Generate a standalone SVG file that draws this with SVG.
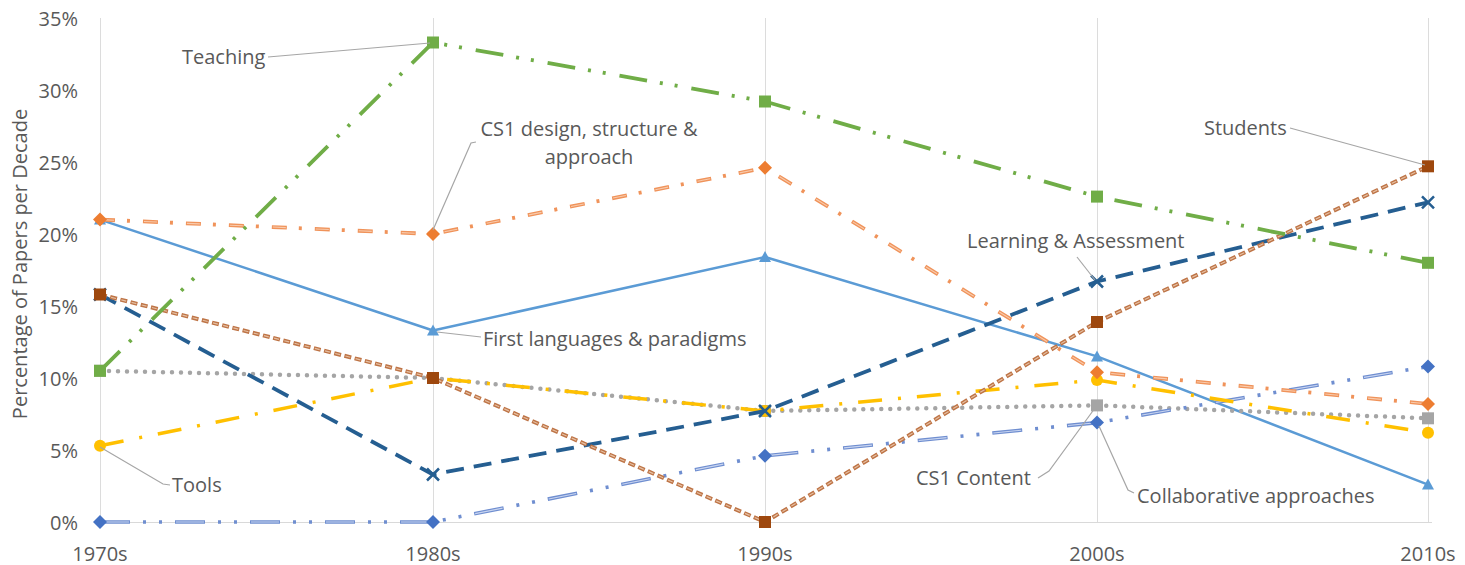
<svg xmlns="http://www.w3.org/2000/svg" xmlns:xlink="http://www.w3.org/1999/xlink" width="1465" height="565" viewBox="0 0 1465 565">
<style>
text{font-family:"Open Sans","Liberation Sans",sans-serif;font-size:20px;fill:#595959}
.grid{stroke:#DCDCDC;stroke-width:1;fill:none}
.leader{stroke:#A6A6A6;stroke-width:1.2;fill:none}
.s{fill:none;stroke-linejoin:round}
</style>
<defs>
<rect id="sq" x="-6" y="-6" width="12" height="12"/>
<path id="dia" d="M0,-7 L7,0 L0,7 L-7,0 Z"/>
<path id="tri" d="M0,-6 L6,5 L-6,5 Z"/>
<circle id="cir" r="6"/>
<path id="xm" d="M-6,-6 L6,6 M-6,6 L6,-6"/>
</defs>
<rect width="1465" height="565" fill="#FFFFFF"/>
<g id="gridlines">
<path class="grid" d="M100.5,18V522 M433.5,18V522 M765.5,18V522 M1097.5,18V522 M1428.5,18V522"/>
<path d="M100,522.5H1432" stroke="#D9D9D9" stroke-width="1.2"/>
</g>
<g id="axis-y">
<g text-anchor="end">
<text x="78" y="529.5">0%</text>
<text x="78" y="457.5">5%</text>
<text x="78" y="385.5">10%</text>
<text x="78" y="313.5">15%</text>
<text x="78" y="241.5">20%</text>
<text x="78" y="169.5">25%</text>
<text x="78" y="97.5">30%</text>
<text x="78" y="25.5">35%</text>
</g>
<text x="0" y="0" text-anchor="middle" transform="translate(27,264) rotate(-90)">Percentage of Papers per Decade</text>
</g>
<g id="axis-x" text-anchor="middle">
<text x="100" y="561">1970s</text>
<text x="433" y="561">1980s</text>
<text x="765" y="561">1990s</text>
<text x="1097" y="561">2000s</text>
<text x="1428" y="561">2010s</text>
</g>
<g id="series-first-languages">
<path class="s" d="M100,219.6 L433,330.5 L765,257 L1097,356.4 L1428,484.6" stroke="#5B9BD5" stroke-width="2.5"/>
<g fill="#5B9BD5"><use href="#tri" x="100" y="219.6"/><use href="#tri" x="433" y="330.5"/><use href="#tri" x="765" y="257"/><use href="#tri" x="1097" y="356.4"/><use href="#tri" x="1428" y="484.6"/></g>
</g>
<g id="series-cs1-content">
<path class="s" d="M100,370.8 L433,378 L765,411 L1097,405.4 L1428,418.3" stroke="#A5A5A5" stroke-width="4.5" stroke-linecap="round" stroke-dasharray="0 9"/>
<g fill="#A5A5A5"><use href="#sq" x="100" y="370.8"/><use href="#sq" x="433" y="378"/><use href="#sq" x="765" y="411"/><use href="#sq" x="1097" y="405.4"/><use href="#sq" x="1428" y="418.3"/></g>
</g>
<g id="series-collaborative">
<path class="s" d="M100,522 L433,522 L765,455.8 L1097,422.6 L1428,366.5" stroke="#6F8ED0" stroke-width="3.6" stroke-dasharray="30 13 3 13 3 13"/>
<path class="s" d="M100,522 L433,522 L765,455.8 L1097,422.6 L1428,366.5" stroke="#C9D5F0" stroke-width="1.1" stroke-dasharray="28 47" stroke-dashoffset="-1"/>
<g fill="#4472C4"><use href="#dia" x="100" y="522"/><use href="#dia" x="433" y="522"/><use href="#dia" x="765" y="455.8"/><use href="#dia" x="1097" y="422.6"/><use href="#dia" x="1428" y="366.5"/></g>
</g>
<g id="series-tools">
<path class="s" d="M100,445.7 L433,378 L765,411 L1097,380 L1428,432.7" stroke="#FFC000" stroke-width="3.5" stroke-dasharray="24 16 3 16"/>
<g fill="#FFC000"><use href="#cir" x="100" y="445.7"/><use href="#cir" x="433" y="378"/><use href="#cir" x="765" y="411"/><use href="#cir" x="1097" y="380"/><use href="#cir" x="1428" y="432.7"/></g>
</g>
<g id="series-learning-assessment">
<path class="s" d="M100,294.5 L433,474.5 L765,411 L1097,281.5 L1428,202.3" stroke="#255E91" stroke-width="3.8" stroke-dasharray="18 10"/>
<g stroke="#255E91" stroke-width="2.5" fill="none"><use href="#xm" x="100" y="294.5"/><use href="#xm" x="433" y="474.5"/><use href="#xm" x="765" y="411"/><use href="#xm" x="1097" y="281.5"/><use href="#xm" x="1428" y="202.3"/></g>
</g>
<g id="series-students">
<path class="s" d="M100,294.5 L433,378 L765,522 L1097,322 L1428,166.3" stroke="#BE7446" stroke-width="4" stroke-dasharray="7 3.5"/>
<path class="s" d="M100,294.5 L433,378 L765,522 L1097,322 L1428,166.3" stroke="#E6BFA2" stroke-width="1.2" stroke-dasharray="5 5.5" stroke-dashoffset="-1"/>
<g fill="#9E480E"><use href="#sq" x="100" y="294.5"/><use href="#sq" x="433" y="378"/><use href="#sq" x="765" y="522"/><use href="#sq" x="1097" y="322"/><use href="#sq" x="1428" y="166.3"/></g>
</g>
<g id="series-cs1-design">
<path class="s" d="M100,219.6 L433,234 L765,167.8 L1097,372.2 L1428,403.9" stroke="#F0935A" stroke-width="3.8" stroke-dasharray="15 12 3 13"/>
<path class="s" d="M100,219.6 L433,234 L765,167.8 L1097,372.2 L1428,403.9" stroke="#F8CBAD" stroke-width="1.1" stroke-dasharray="13 30" stroke-dashoffset="-1"/>
<g fill="#ED7D31"><use href="#dia" x="100" y="219.6"/><use href="#dia" x="433" y="234"/><use href="#dia" x="765" y="167.8"/><use href="#dia" x="1097" y="372.2"/><use href="#dia" x="1428" y="403.9"/></g>
</g>
<g id="series-teaching">
<path class="s" d="M100,370.8 L433,42.5 L765,101.5 L1097,196.6 L1428,262.8" stroke="#70AD47" stroke-width="3.8" stroke-dasharray="28 13 3 12 3 14"/>
<g fill="#70AD47"><use href="#sq" x="100" y="370.8"/><use href="#sq" x="433" y="42.5"/><use href="#sq" x="765" y="101.5"/><use href="#sq" x="1097" y="196.6"/><use href="#sq" x="1428" y="262.8"/></g>
</g>
<g id="connectors">
<path class="leader" d="M268,57 L430,43"/>
<path class="leader" d="M433,230 L471,143 L476,142"/>
<path class="leader" d="M437,332 L481,337"/>
<path class="leader" d="M100,447 L163,484 L170,485"/>
<path class="leader" d="M1290,128 L1425,165"/>
<path class="leader" d="M1077,257 L1095,280"/>
<path class="leader" d="M1038,478 L1049,471 L1095,408"/>
<path class="leader" d="M1134,493 L1128,490 L1099,426"/>
</g>
<g id="label-teaching"><text x="182" y="64">Teaching</text></g>
<g id="label-cs1-design" text-anchor="middle"><text x="589" y="136">CS1 design, structure &amp;</text><text x="589" y="164">approach</text></g>
<g id="label-first-languages"><text x="483" y="346">First languages &amp; paradigms</text></g>
<g id="label-tools"><text x="172" y="492">Tools</text></g>
<g id="label-students"><text x="1204" y="135">Students</text></g>
<g id="label-learning"><text x="967" y="248">Learning &amp; Assessment</text></g>
<g id="label-cs1-content"><text x="916" y="485">CS1 Content</text></g>
<g id="label-collaborative"><text x="1137" y="503">Collaborative approaches</text></g>
</svg>
